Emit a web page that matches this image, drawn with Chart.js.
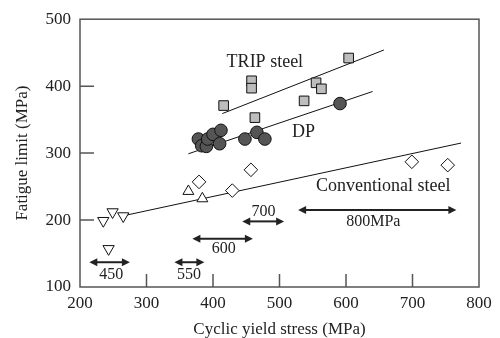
<!DOCTYPE html>
<html>
<head>
<meta charset="utf-8">
<script src="https://cdn.jsdelivr.net/npm/chart.js@4.4.1/dist/chart.umd.min.js"></script>
<style>
    html, body { margin: 0; padding: 0; background: #fff; }
    #wrap { width: 500px; height: 338px; }
</style>
</head>
<body>
<div id="wrap"><canvas id="fatigueChart"></canvas></div>
<script>
// TRIP steel (grey squares)
const tripX = [416, 458, 458, 463, 537, 555, 563, 604];
const tripY = [371, 408, 397, 353, 378, 405, 396, 442];

// DP steel (dark circles)
const dpX = [378, 383, 390, 392, 400, 412, 410, 448, 466, 478, 591];
const dpY = [321, 311, 310, 321, 328, 334, 314, 321, 331, 321, 374];

// Conventional steels
const diamondX = [379, 429, 457, 699, 753];
const diamondY = [257, 244, 275, 287, 282];
const triUpX = [363, 384];
const triUpY = [243, 232];
const triDownX = [235, 249, 265, 243];
const triDownY = [199, 212, 206, 157];

// Trend lines: [start, end]
const tripLineX = [414, 657];
const tripLineY = [359, 454];
const dpLineX = [363, 640];
const dpLineY = [299, 392];
const convLineX = [268, 773];
const convLineY = [207, 315];

// Strength range arrows
const rangeLabels = ['450', '550', '600', '700', '800MPa'];
const rangeFrom = [214, 342, 369, 444, 528];
const rangeTo = [275, 387, 460, 507, 766];
const rangeY = [137, 137, 172, 198, 215];
const rangeLabelX = [247, 364, 416, 476, 641];
const rangeLabelY = [118, 118, 157, 213, 198];

// Group names
const groupNames = ['TRIP steel', 'DP', 'Conventional steel'];
const groupNameX = [478, 536, 656];
const groupNameY = [436, 331, 250];

const xTicks = [200, 300, 400, 500, 600, 700, 800];
const yTicks = [100, 200, 300, 400, 500];

const SERIF = '"Liberation Serif", "DejaVu Serif", serif';
const INK = '#222';

function toPoints(xs, ys) {
    return xs.map((x, i) => ({ x: x, y: ys[i] }));
}

function markerSet(xs, ys, style, radius, fill, rotation) {
    return {
        type: 'scatter',
        data: toPoints(xs, ys),
        pointStyle: style,
        pointRadius: radius,
        pointHoverRadius: radius,
        pointRotation: rotation || 0,
        backgroundColor: fill,
        borderColor: '#111',
        borderWidth: 1,
        order: 1
    };
}

function trendLine(xs, ys) {
    return {
        type: 'line',
        data: toPoints(xs, ys),
        borderColor: '#111',
        borderWidth: 1,
        pointRadius: 0,
        fill: false,
        order: 2
    };
}

// Frame, inward ticks, range arrows and text labels
const decorPlugin = {
    id: 'decor',
    afterDraw(chart) {
        const ctx = chart.ctx;
        const xs = chart.scales.x;
        const ys = chart.scales.y;
        const area = chart.chartArea;
        ctx.save();

        // frame
        ctx.strokeStyle = '#555';
        ctx.lineWidth = 1.5;
        ctx.strokeRect(area.left, area.top, area.right - area.left, area.bottom - area.top);

        // inward ticks
        ctx.beginPath();
        xTicks.slice(1, -1).forEach(v => {
            const px = xs.getPixelForValue(v);
            ctx.moveTo(px, area.bottom);
            ctx.lineTo(px, area.bottom - 13);
        });
        yTicks.slice(1, -1).forEach(v => {
            const py = ys.getPixelForValue(v);
            ctx.moveTo(area.left, py);
            ctx.lineTo(area.left + 14, py);
        });
        ctx.stroke();

        // arrows
        ctx.strokeStyle = INK;
        ctx.fillStyle = INK;
        ctx.lineWidth = 2;
        rangeFrom.forEach((from, i) => {
            const x0 = xs.getPixelForValue(from);
            const x1 = xs.getPixelForValue(rangeTo[i]);
            const y = ys.getPixelForValue(rangeY[i]);
            ctx.beginPath();
            ctx.moveTo(x0 + 6, y);
            ctx.lineTo(x1 - 6, y);
            ctx.stroke();
            [[x0, 1], [x1, -1]].forEach(([tip, dir]) => {
                ctx.beginPath();
                ctx.moveTo(tip, y);
                ctx.lineTo(tip + dir * 8, y - 4);
                ctx.lineTo(tip + dir * 8, y + 4);
                ctx.closePath();
                ctx.fill();
            });
        });

        // text
        ctx.textAlign = 'center';
        ctx.textBaseline = 'middle';
        ctx.font = '16px ' + SERIF;
        rangeLabels.forEach((t, i) => {
            ctx.fillText(t, xs.getPixelForValue(rangeLabelX[i]), ys.getPixelForValue(rangeLabelY[i]));
        });
        ctx.font = '18px ' + SERIF;
        groupNames.forEach((t, i) => {
            ctx.fillText(t, xs.getPixelForValue(groupNameX[i]), ys.getPixelForValue(groupNameY[i]));
        });
        ctx.restore();
    }
};

document.addEventListener('DOMContentLoaded', function () {
    const ctx = document.getElementById('fatigueChart').getContext('2d');

    new Chart(ctx, {
        data: {
            datasets: [
                markerSet(tripX, tripY, 'rect', 6.8, '#bdbdbd'),
                markerSet(dpX, dpY, 'circle', 6.3, '#555555'),
                markerSet(diamondX, diamondY, 'rectRot', 6.8, '#ffffff'),
                markerSet(triUpX, triUpY, 'triangle', 6.3, '#ffffff'),
                markerSet(triDownX, triDownY, 'triangle', 6.5, '#ffffff', 180),
                trendLine(tripLineX, tripLineY),
                trendLine(dpLineX, dpLineY),
                trendLine(convLineX, convLineY)
            ]
        },
        options: {
            responsive: true,
            maintainAspectRatio: false,
            animation: false,
            events: [],
            layout: { padding: { top: 15, right: 21, left: 0, bottom: 0 } },
            plugins: {
                legend: { display: false },
                tooltip: { enabled: false }
            },
            scales: {
                x: {
                    type: 'linear',
                    min: 200,
                    max: 800,
                    afterFit: scale => { scale.height = 51; },
                    afterBuildTicks: scale => { scale.ticks = xTicks.map(v => ({ value: v })); },
                    grid: { display: false, drawTicks: false },
                    border: { display: false },
                    ticks: { color: INK, padding: 6, font: { family: SERIF, size: 17 } },
                    title: {
                        display: true,
                        text: 'Cyclic yield stress (MPa)',
                        color: INK,
                        padding: { top: 0, bottom: 0 },
                        font: { family: SERIF, size: 17, lineHeight: 1 }
                    }
                },
                y: {
                    type: 'linear',
                    min: 100,
                    max: 500,
                    afterFit: scale => { scale.width = 80; },
                    afterBuildTicks: scale => { scale.ticks = yTicks.map(v => ({ value: v })); },
                    grid: { display: false, drawTicks: false },
                    border: { display: false },
                    ticks: { color: INK, padding: 9, font: { family: SERIF, size: 17 } },
                    title: {
                        display: true,
                        text: 'Fatigue limit (MPa)',
                        color: INK,
                        padding: { top: 14, bottom: 0 },
                        font: { family: SERIF, size: 17, lineHeight: 1 }
                    }
                }
            }
        },
        plugins: [decorPlugin]
    });
});
</script>
</body>
</html>
